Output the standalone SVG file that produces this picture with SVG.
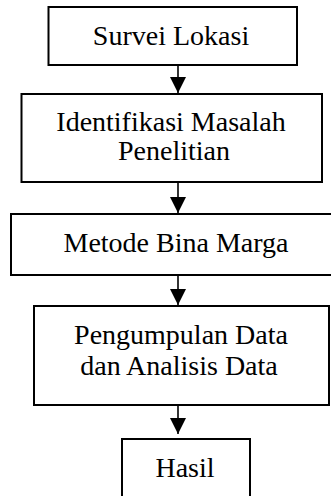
<svg xmlns="http://www.w3.org/2000/svg" width="331" height="496" viewBox="0 0 331 496">
<style>
.box{fill:#fff;stroke:#000;stroke-width:2}
.t{font-size:28px;fill:#000;text-anchor:middle}
.c{stroke:#000;stroke-width:1.6;fill:none}
</style>
<defs>
<marker id="ah" markerUnits="userSpaceOnUse" markerWidth="16" markerHeight="16" viewBox="0 0 14 14" refX="14" refY="7" orient="auto">
<path d="M0,0 L14,7 L0,14 Z" fill="#000"/>
</marker>
</defs>
<rect width="331" height="496" fill="#fff"/>
<g id="connectors">
<line class="c" x1="178" y1="65" x2="178" y2="93" marker-end="url(#ah)"/>
<line class="c" x1="178" y1="182" x2="178" y2="213" marker-end="url(#ah)"/>
<line class="c" x1="178" y1="270" x2="178" y2="305" marker-end="url(#ah)"/>
<line class="c" x1="178" y1="402" x2="178" y2="434" marker-end="url(#ah)"/>
</g>
<g id="n1" font-family="'Liberation Serif', 'Times New Roman', 'DejaVu Serif', serif">
<rect class="box" x="48.5" y="7" width="248.5" height="58"/>
<text class="t" x="171" y="45">Survei Lokasi</text>
</g>
<g id="n2" font-family="'Liberation Serif', 'Times New Roman', 'DejaVu Serif', serif">
<rect class="box" x="21.5" y="94" width="300.5" height="88"/>
<text class="t" x="171" y="131">Identifikasi Masalah</text>
<text class="t" x="174" y="160">Penelitian</text>
</g>
<g id="n3" font-family="'Liberation Serif', 'Times New Roman', 'DejaVu Serif', serif">
<rect class="box" x="11" y="214" width="322" height="61"/>
<text class="t" x="176" y="252">Metode Bina Marga</text>
</g>
<g id="n4" font-family="'Liberation Serif', 'Times New Roman', 'DejaVu Serif', serif">
<rect class="box" x="34" y="306" width="295" height="99"/>
<text class="t" x="181" y="344">Pengumpulan Data</text>
<text class="t" x="179" y="375">dan Analisis Data</text>
</g>
<g id="n5" font-family="'Liberation Serif', 'Times New Roman', 'DejaVu Serif', serif">
<rect class="box" x="122" y="439" width="128" height="60"/>
<text class="t" x="185" y="477">Hasil</text>
</g>
</svg>
